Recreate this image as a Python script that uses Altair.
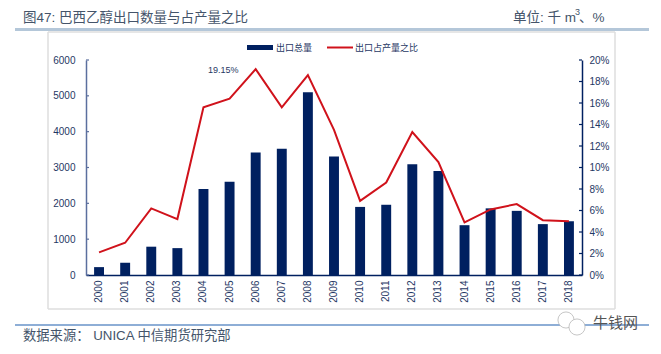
import altair as alt
import pandas as pd

years = [str(y) for y in range(2000, 2019)]
volume = [220, 340, 790, 750, 2400, 2600, 3420, 3520, 5100, 3310, 1900, 1960, 3090, 2900, 1390, 1860, 1790, 1420, 1500]
share = [2.1, 3.0, 6.2, 5.2, 15.6, 16.4, 19.15, 15.6, 18.6, 13.5, 6.9, 8.6, 13.3, 10.5, 4.9, 6.1, 6.6, 5.1, 5.0]
left_ticks = [0, 1000, 2000, 3000, 4000, 5000, 6000]
right_ticks = list(range(0, 21, 2))
df = pd.DataFrame({"year": years, "volume": volume, "share": share})

NAVY = "#002060"
LBL = "#1f3864"
RED = "#d0121b"
TXT = "#44546a"
FONT = "Liberation Sans, Noto Sans CJK SC"
W, H = 496, 215
L, T = 78, 52
PW, PH = W + L, H + T

xscale = alt.Scale(paddingInner=0.62, paddingOuter=0.31)
x = alt.X("year:N", sort=years, scale=xscale,
          axis=alt.Axis(title=None, labelAngle=-90, labelFontSize=10, labelColor=LBL, labelFont=FONT,
                        labelPadding=5, ticks=False, domainColor=NAVY, domainWidth=1.5, labelOverlap=False))
yl = alt.Scale(domain=[0, 6000])
yr = alt.Scale(domain=[0, 20])
yl_axis = alt.Axis(title=None, values=left_ticks, format="d", labelFontSize=10, labelColor=LBL,
                   labelFont=FONT, grid=False, ticks=False, domainColor="#5b6f9e",
                   domainWidth=1.5, labelPadding=11, labelOverlap=False)
yr_axis = alt.Axis(title=None, orient="right", values=right_ticks, labelExpr="datum.value + '%'",
                   labelFontSize=10, labelColor=LBL, labelFont=FONT, grid=False, ticks=False,
                   domainColor=NAVY, domainWidth=1.5, labelPadding=7, labelOverlap=False)

bars = alt.Chart(df).mark_bar(color=NAVY).encode(
    x=x,
    y=alt.Y("volume:Q", scale=yl, axis=yl_axis),
)
lticks = alt.Chart(pd.DataFrame({"v": left_ticks})).mark_rule(color="#5b6f9e", strokeWidth=1.2).encode(
    y=alt.Y("v:Q", scale=yl, axis=yl_axis), x=alt.value(0), x2=alt.value(3))
left = alt.layer(bars, lticks)

line = alt.Chart(df).mark_line(color=RED, strokeWidth=2).encode(
    x=x,
    y=alt.Y("share:Q", scale=yr, axis=yr_axis),
)
rticks = alt.Chart(pd.DataFrame({"v": right_ticks})).mark_rule(color=NAVY, strokeWidth=1.2).encode(
    y=alt.Y("v:Q", scale=yr, axis=yr_axis), x=alt.value(W - 3), x2=alt.value(W))
right = alt.layer(line, rticks)


def px(v):
    return alt.value(v - 8 - L)


def py(v):
    return alt.value(v - 8 - T)


def text(s, x0, y0, size, color=TXT, align="left"):
    return alt.Chart(pd.DataFrame({"t": [s]})).mark_text(
        font=FONT, fontSize=size, color=color, align=align, baseline="middle"
    ).encode(text="t:N", x=px(x0), y=py(y0))


def hline(x1, x2, y, color, width):
    return alt.Chart(pd.DataFrame({"a": [0]})).mark_rule(color=color, strokeWidth=width).encode(
        x=px(x1), x2=px(x2), y=py(y))


def vline(x0, y1, y2, color, width):
    return alt.Chart(pd.DataFrame({"a": [0]})).mark_rule(color=color, strokeWidth=width).encode(
        x=px(x0), y=py(y1), y2=py(y2))


def bubble(x0, y0, size):
    return alt.Chart(pd.DataFrame({"a": [0]})).mark_point(
        shape="circle", size=size, filled=True, fill="white", stroke="#b8b8b8", strokeWidth=0.8, opacity=1
    ).encode(x=px(x0), y=py(y0))


decor = [
    hline(15, 649, 29.5, "#b4c7d9", 3),
    hline(15, 649, 325, "#8eaed6", 2),
    hline(48, 615, 32, "#dedede", 1.5),
    hline(48, 615, 309, "#dedede", 1.5),
    vline(48, 32, 309, "#dedede", 1.5),
    vline(615, 32, 309, "#dedede", 1.5),
    hline(247, 273, 47.5, NAVY, 5),
    hline(327, 353, 47.5, RED, 2),
    text("图47:  巴西乙醇出口数量与占产量之比", 23, 18, 13.5),
    text("单位:  千 m", 513, 18, 13.5),
    text("3", 575, 12, 9),
    text("、%", 579, 18, 13.5),
    text("出口总量", 276, 47.5, 9, LBL),
    text("出口占产量之比", 355, 47.5, 9, LBL),
    text("19.15%", 208, 70, 9, LBL),
    text("数据来源： UNICA  中信期货研究部", 23, 336, 13.3),
    bubble(566, 320, 260),
    bubble(577, 327, 260),
    text("牛钱网", 593, 323, 15, "#555555"),
]

chart = alt.layer(*decor, alt.layer(left, right).resolve_scale(y="independent")).resolve_scale(
    y="independent"
).properties(
    width=W, height=H,
    padding={"left": L, "top": T, "right": 645 - PW, "bottom": 338 - PH},
    autosize=alt.AutoSizeParams(type="none"),
).configure_view(stroke=None)

chart.save("out.html", embed_options={"renderer": "svg", "actions": False})
